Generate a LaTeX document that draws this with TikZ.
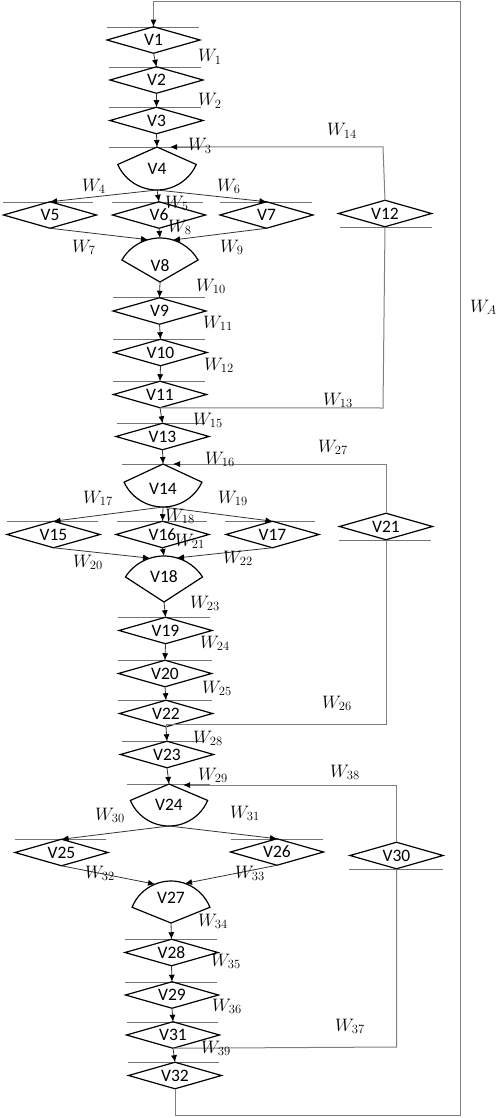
\documentclass[tikz,border=0pt]{standalone}
\usepackage{fix-cm}
\usepackage{fontspec}
\newfontfamily\carl{Carlito}
\usetikzlibrary{shapes.geometric,arrows.meta}
\newcommand{\vfont}{\carl\fontsize{17.5}{18}\selectfont}
\newcommand{\wfont}{\fontsize{18}{19}\selectfont}
\begin{document}
\begin{tikzpicture}[x=1pt,y=-1pt,
  dia/.style={diamond,draw=black,line width=1.2pt,minimum width=93pt,minimum height=26.5pt,inner sep=0pt,outer sep=0pt,aspect=3.5,font=\vfont},
  fanst/.style={draw=black,line width=1.2pt,line join=miter},
  lbl/.style={inner sep=0pt,font=\vfont},
  wl/.style={anchor=base west,inner sep=0pt,font=\wfont},
  hl/.style={draw=black!55,line width=0.9pt},
  arr/.style={draw=black!80,line width=0.8pt,-{Latex[length=7pt,width=6pt,color=black]}},
  fb/.style={draw=black!50,line width=1pt},
  fbarr/.style={draw=black!50,line width=1pt,-{Latex[length=7pt,width=6pt,color=black]}}]
\useasboundingbox (0,0) rectangle (495,1118);

% ---------- horizontal lines ----------
\draw[hl] (107,27) -- (199,27);
\draw[hl] (109,67) -- (201,67);
\draw[hl] (109,107) -- (201,107);
\draw[hl] (109,147) -- (200,147);
\draw[hl] (3,202) -- (93,202);
\draw[hl] (112,202) -- (203,202);
\draw[hl] (220,202) -- (312,202);
\draw[hl] (113,297) -- (205,297);
\draw[hl] (113,339) -- (205,339);
\draw[hl] (113,381) -- (205,381);
\draw[hl] (340,227) -- (432,227);
\draw[hl] (117,423) -- (205,423);
\draw[hl] (122,464) -- (203,464);
\draw[hl] (7,521) -- (98,521);
\draw[hl] (117,521) -- (207,521);
\draw[hl] (225,521) -- (315,521);
\draw[hl] (118,617) -- (210,617);
\draw[hl] (118,660) -- (212,660);
\draw[hl] (339,540) -- (431,540);
\draw[hl] (118,700) -- (212,700);
\draw[hl] (122,741) -- (203,741);
\draw[hl] (127,784) -- (210,784);
\draw[hl] (15,839) -- (106,839);
\draw[hl] (231,839) -- (323,839);
\draw[hl] (125,939) -- (217,939);
\draw[hl] (125,982) -- (217,982);
\draw[hl] (349,869) -- (443,869);
\draw[hl] (127,1022) -- (218,1022);
\draw[hl] (128,1062) -- (219,1062);

% ---------- diamond nodes ----------
\node[dia] (v1) at (153.5,40) {V1};
\node[dia] (v2) at (156.5,80) {V2};
\node[dia] (v3) at (156.5,120.5) {V3};
\node[dia] (v5) at (50,215) {V5};
\node[dia] (v6) at (159,215) {V6};
\node[dia] (v7) at (266.5,215) {V7};
\node[dia] (v9) at (159.5,311) {V9};
\node[dia] (v10) at (160.5,352.5) {V10};
\node[dia] (v11) at (160,394.5) {V11};
\node[dia] (v12) at (385,213.5) {V12};
\node[dia] (v13) at (162.5,436.5) {V13};
\node[dia] (v15) at (53.5,534.5) {V15};
\node[dia] (v16) at (162.5,534.5) {V16};
\node[dia] (v17) at (272.5,534.5) {V17};
\node[dia] (v19) at (165.5,630.5) {V19};
\node[dia] (v20) at (165,673.5) {V20};
\node[dia] (v21) at (386,526.5) {V21};
\node[dia] (v22) at (166,713.5) {V22};
\node[dia] (v23) at (167,754.5) {V23};
\node[dia] (v25) at (61.5,852.5) {V25};
\node[dia] (v26) at (277,852) {V26};
\node[dia] (v28) at (171.5,952.5) {V28};
\node[dia] (v29) at (172,995) {V29};
\node[dia] (v30) at (396.5,855.5) {V30};
\node[dia] (v31) at (173,1035) {V31};
\node[dia] (v32) at (175,1075.5) {V32};

% ---------- fan nodes ----------
% V4 (apex on top)
\coordinate (v4t) at (157,147);
\coordinate (v4b) at (157,190);
\draw[fanst] (v4t) -- ++(204:43pt) arc[start angle=204,end angle=336,radius=43pt] -- cycle;
\node[lbl] (v4) at (157,169) {V4};
% V8 (apex at bottom)
\coordinate (v8b) at (160,282);
\coordinate (v8t) at (160,238);
\coordinate (v8l) at (148,239.7);
\coordinate (v8r) at (173,240);
\draw[fanst] (v8b) -- ++(150:44pt) arc[start angle=150,end angle=30,radius=44pt] -- cycle;
\node[lbl] (v8) at (160,266) {V8};
% V14
\coordinate (v14t) at (163,464);
\coordinate (v14b) at (163,507);
\draw[fanst] (v14t) -- ++(205:43pt) arc[start angle=205,end angle=335,radius=43pt] -- cycle;
\node[lbl] (v14) at (163,489) {V14};
% V18
\coordinate (v18b) at (164,602);
\coordinate (v18t) at (164,556);
\coordinate (v18l) at (150,558.2);
\coordinate (v18r) at (177,557.9);
\draw[fanst] (v18b) -- ++(147:46pt) arc[start angle=147,end angle=33,radius=46pt] -- cycle;
\node[lbl] (v18) at (164,577) {V18};
% V24
\coordinate (v24t) at (169,784);
\coordinate (v24b) at (169,826);
\draw[fanst] (v24t) -- ++(203:42pt) arc[start angle=203,end angle=337,radius=42pt] -- cycle;
\node[lbl] (v24) at (169,805) {V24};
% V27
\coordinate (v27b) at (171,923);
\coordinate (v27l) at (155,884.2);
\coordinate (v27r) at (185,883.4);
\draw[fanst] (v27b) -- ++(158:42pt) arc[start angle=158,end angle=22,radius=42pt] -- cycle;
\node[lbl] (v27) at (171,898) {V27};

% ---------- main arrows ----------
\draw[arr] (v1.south) -- (v2.north);
\draw[arr] (v2.south) -- (v3.north);
\draw[arr] (v3.south) -- (v4t);
\draw[arr] (v4b) -- (v5.north);
\draw[arr] (v4b) -- (v6.north);
\draw[arr] (v4b) -- (v7.north);
\draw[arr] (v5.south) -- (v8l);
\draw[arr] (v6.south) -- (v8t);
\draw[arr] (v7.south) -- (v8r);
\draw[arr] (v8b) -- (v9.north);
\draw[arr] (v9.south) -- (v10.north);
\draw[arr] (v10.south) -- (v11.north);
\draw[arr] (v11.south) -- (v13.north);
\draw[arr] (v13.south) -- (v14t);
\draw[arr] (v14b) -- (v15.north);
\draw[arr] (v14b) -- (v16.north);
\draw[arr] (v14b) -- (v17.north);
\draw[arr] (v15.south) -- (v18l);
\draw[arr] (v16.south) -- (v18t);
\draw[arr] (v17.south) -- (v18r);
\draw[arr] (v18b) -- (v19.north);
\draw[arr] (v19.south) -- (v20.north);
\draw[arr] (v20.south) -- (v22.north);
\draw[arr] (v22.south) -- (v23.north);
\draw[arr] (v23.south) -- (v24t);
\draw[arr] (v24b) -- (v25.north);
\draw[arr] (v24b) -- (v26.north);
\draw[arr] (v25.south) -- (v27l);
\draw[arr] (v26.south) -- (v27r);
\draw[arr] (v27b) -- (v28.north);
\draw[arr] (v28.south) -- (v29.north);
\draw[arr] (v29.south) -- (v31.north);
\draw[arr] (v31.south) -- (v32.north);

% ---------- feedback loops ----------
\coordinate (f1a) at (383,408);
\coordinate (f1b) at (383,147);
\coordinate (f1t) at (170,147);
\draw[fb] (v11.south) -- (f1a) -- (v12.south);
\draw[fbarr] (v12.north) -- (f1b) -- (f1t);

\coordinate (f2a) at (386,724);
\coordinate (f2b) at (386,464);
\coordinate (f2t) at (173,464);
\draw[fb] (v22.south) |- (f2a) -- (v21.south);
\draw[fbarr] (v21.north) -- (f2b) -- (f2t);

\coordinate (f3a) at (396.5,1047);
\coordinate (f3b) at (396.5,785);
\coordinate (f3t) at (183,785);
\draw[fb] (v31.south) -- (f3a) -- (v30.south);
\draw[fbarr] (v30.north) -- (f3b) -- (f3t);

\coordinate (g1) at (175,1115);
\coordinate (g2) at (460,1115);
\coordinate (g3) at (460,2);
\coordinate (g4) at (153.5,2);
\draw[fbarr] (v32.south) -- (g1) -- (g2) -- (g3) -- (g4) -- (v1.north);

% ---------- labels ----------
\node[wl] (w1) at (198,62) {$W_{1}$};
\node[wl] (w2) at (198,106) {$W_{2}$};
\node[wl] (w3) at (188,151) {$W_{3}$};
\node[wl] (w4) at (82,191) {$W_{4}$};
\node[wl] (w5) at (165,208) {$W_{5}$};
\node[wl] (w6) at (217,191) {$W_{6}$};
\node[wl] (w7) at (72,252) {$W_{7}$};
\node[wl] (w8) at (168,232) {$W_{8}$};
\node[wl] (w9) at (220,252) {$W_{9}$};
\node[wl] (w10) at (196,291) {$W_{10}$};
\node[wl] (w11) at (203,328) {$W_{11}$};
\node[wl] (w12) at (204,370) {$W_{12}$};
\node[wl] (w13) at (323,405) {$W_{13}$};
\node[wl] (w14) at (327,136) {$W_{14}$};
\node[wl] (w15) at (193,425) {$W_{15}$};
\node[wl] (w16) at (205,464) {$W_{16}$};
\node[wl] (w17) at (83,503) {$W_{17}$};
\node[wl] (w18) at (165,521) {$W_{18}$};
\node[wl] (w19) at (218,503) {$W_{19}$};
\node[wl] (w20) at (73,567) {$W_{20}$};
\node[wl] (w21) at (175,546) {$W_{21}$};
\node[wl] (w22) at (223,563) {$W_{22}$};
\node[wl] (w23) at (190,608) {$W_{23}$};
\node[wl] (w24) at (200,648) {$W_{24}$};
\node[wl] (w25) at (202,693) {$W_{25}$};
\node[wl] (w26) at (322,708) {$W_{26}$};
\node[wl] (w27) at (318,452) {$W_{27}$};
\node[wl] (w28) at (193,743) {$W_{28}$};
\node[wl] (w29) at (198,780) {$W_{29}$};
\node[wl] (w30) at (95,820) {$W_{30}$};
\node[wl] (w31) at (230,818) {$W_{31}$};
\node[wl] (w32) at (85,878) {$W_{32}$};
\node[wl] (w33) at (235,878) {$W_{33}$};
\node[wl] (w34) at (198,926) {$W_{34}$};
\node[wl] (w35) at (211,966) {$W_{35}$};
\node[wl] (w36) at (212,1011) {$W_{36}$};
\node[wl] (w37) at (335,1031) {$W_{37}$};
\node[wl] (w38) at (330,777) {$W_{38}$};
\node[wl] (w39) at (201,1053) {$W_{39}$};
\node[wl] (wa) at (470,312) {$W_{A}$};
\end{tikzpicture}
\end{document}
